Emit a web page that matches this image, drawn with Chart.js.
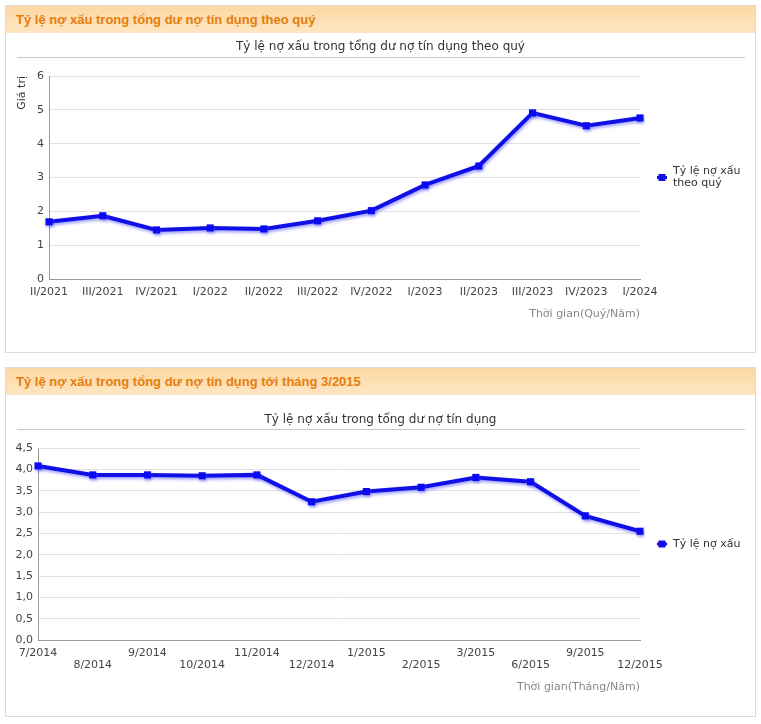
<!DOCTYPE html>
<html>
<head>
<meta charset="utf-8">
<script src="https://cdn.jsdelivr.net/npm/chart.js@4.4.1/dist/chart.umd.min.js"></script>
<style>
  body { margin: 0; background: #fff; font-family: "DejaVu Sans", sans-serif; }
  .panel { position: absolute; left: 5px; width: 749px; border: 1px solid #dadada; background: #fff; }
  .panel h2 { margin: 0; height: 27px; padding-left: 10px; font: bold 13px "Liberation Sans", sans-serif; line-height: 28px; color: #e67d0c; background: linear-gradient(#fcd7a2, #fee6c2); }
  .box { position: relative; width: 749px; }
</style>
</head>
<body>
<div class="panel" style="top:5px">
  <h2>Tỷ lệ nợ xấu trong tổng dư nợ tín dụng theo quý</h2>
  <div class="box" style="height:319px"><canvas id="quarterChart"></canvas></div>
</div>
<div class="panel" style="top:367px">
  <h2>Tỷ lệ nợ xấu trong tổng dư nợ tín dụng tới tháng 3/2015</h2>
  <div class="box" style="height:321px"><canvas id="monthChart"></canvas></div>
</div>
<script>
// Dữ liệu theo quý
const quarterLabels = ['II/2021', 'III/2021', 'IV/2021', 'I/2022', 'II/2022', 'III/2022', 'IV/2022', 'I/2023', 'II/2023', 'III/2023', 'IV/2023', 'I/2024'];
const quarterValues = [1.69, 1.87, 1.45, 1.51, 1.48, 1.72, 2.02, 2.78, 3.34, 4.91, 4.53, 4.76];

// Dữ liệu theo tháng
const monthLabels = ['7/2014', '8/2014', '9/2014', '10/2014', '11/2014', '12/2014', '1/2015', '2/2015', '3/2015', '6/2015', '9/2015', '12/2015'];
const monthValues = [4.08, 3.87, 3.87, 3.85, 3.87, 3.24, 3.48, 3.58, 3.81, 3.71, 2.91, 2.55];

const BLUE = '#1010e6';
const FONT = '"DejaVu Sans", sans-serif';

// Tiêu đề, đường kẻ dưới tiêu đề, chú thích và bóng đổ cho đường
const decoPlugin = {
  id: 'deco',
  beforeDatasetsDraw(chart) {
    const ctx = chart.ctx;
    ctx.save();
    ctx.shadowColor = 'rgba(70, 70, 255, 0.5)';
    ctx.shadowOffsetX = 1;
    ctx.shadowOffsetY = 2;
    ctx.shadowBlur = 3;
  },
  afterDatasetsDraw(chart) {
    chart.ctx.restore();
  },
  afterDraw(chart, args, opts) {
    const ctx = chart.ctx;
    const a = chart.chartArea;
    ctx.save();
    // tiêu đề
    ctx.font = '12px ' + FONT;
    ctx.fillStyle = '#333';
    ctx.textAlign = 'center';
    ctx.textBaseline = 'middle';
    ctx.fillText(opts.title, chart.width / 2, opts.titleY);
    ctx.strokeStyle = '#c8c8c8';
    ctx.lineWidth = 1;
    ctx.beginPath();
    ctx.moveTo(11, opts.lineY + 0.5);
    ctx.lineTo(chart.width - 10, opts.lineY + 0.5);
    ctx.stroke();
    // chú thích
    const lx = a.right + 22;
    const ly = (a.top + a.bottom) / 2;
    ctx.strokeStyle = BLUE;
    ctx.lineWidth = 3;
    ctx.beginPath();
    ctx.moveTo(lx - 5, ly);
    ctx.lineTo(lx + 5, ly);
    ctx.stroke();
    ctx.fillStyle = BLUE;
    ctx.fillRect(lx - 3.5, ly - 3.5, 7, 7);
    ctx.font = '11px ' + FONT;
    ctx.fillStyle = '#333';
    ctx.textAlign = 'left';
    const lines = opts.legend;
    lines.forEach((t, i) => {
      ctx.fillText(t, lx + 11, ly + (i - (lines.length - 1) / 2) * 12);
    });
    ctx.restore();
  }
};

function makeChart(id, labels, values, cfg) {
  const ctx = document.getElementById(id).getContext('2d');
  return new Chart(ctx, {
    type: 'line',
    data: {
      labels: labels,
      datasets: [{
        label: cfg.legend.join(' '),
        data: values,
        borderColor: BLUE,
        backgroundColor: BLUE,
        borderWidth: 4,
        tension: 0,
        pointStyle: 'rect',
        pointRadius: 5,
        pointBackgroundColor: '#0a0af0',
        pointBorderWidth: 0
      }]
    },
    plugins: [decoPlugin],
    options: {
      responsive: true,
      maintainAspectRatio: false,
      animation: false,
      layout: { padding: { top: cfg.top, right: 115, bottom: 0, left: 0 } },
      plugins: {
        legend: { display: false },
        tooltip: { enabled: false },
        deco: { title: cfg.title, titleY: cfg.titleY, lineY: cfg.lineY, legend: cfg.legend }
      },
      scales: {
        x: {
          offset: false,
          afterFit: s => { s.height = cfg.xHeight; },
          grid: { color: 'rgba(0,0,0,0)', drawTicks: false },
          border: { color: '#9a9a9a' },
          ticks: {
            autoSkip: false, maxRotation: 0, padding: 7,
            color: '#444', font: { family: FONT, size: 11, lineHeight: 1.1 }
          },
          title: {
            display: true, text: cfg.xTitle, align: 'end', color: '#888',
            font: { family: FONT, size: 11 }, padding: { top: 0, bottom: cfg.xTitlePad }
          }
        },
        y: {
          min: 0, max: cfg.max,
          afterFit: s => { s.width = cfg.yWidth; },
          grid: { color: '#e2e2e2', drawTicks: false },
          border: { color: '#9a9a9a' },
          ticks: {
            stepSize: cfg.step, padding: 5, color: '#444',
            font: { family: FONT, size: 11 },
            callback: cfg.tickFmt
          },
          title: {
            display: !!cfg.yTitle, text: cfg.yTitle, align: 'end', color: '#333',
            font: { family: FONT, size: 11 }, padding: { top: 10, bottom: 0 }
          }
        }
      }
    }
  });
}

makeChart('quarterChart', quarterLabels, quarterValues, {
  title: 'Tỷ lệ nợ xấu trong tổng dư nợ tín dụng theo quý',
  titleY: 14, lineY: 24, top: 43,
  legend: ['Tỷ lệ nợ xấu', 'theo quý'],
  xTitle: 'Thời gian(Quý/Năm)', xHeight: 73, xTitlePad: 31,
  yTitle: 'Giá trị', yWidth: 43,
  max: 6, step: 1,
  tickFmt: v => String(v)
});

// nhãn trục x so le hai hàng
const monthTicks = monthLabels.map((m, i) => i % 2 === 0 ? [m, ''] : ['', m]);

makeChart('monthChart', monthTicks, monthValues, {
  title: 'Tỷ lệ nợ xấu trong tổng dư nợ tín dụng',
  titleY: 25, lineY: 34, top: 53,
  legend: ['Tỷ lệ nợ xấu'],
  xTitle: 'Thời gian(Tháng/Năm)', xHeight: 76, xTitlePad: 22,
  yTitle: '', yWidth: 32,
  max: 4.5, step: 0.5,
  tickFmt: v => v.toFixed(1).replace('.', ',')
});
</script>
</body>
</html>
